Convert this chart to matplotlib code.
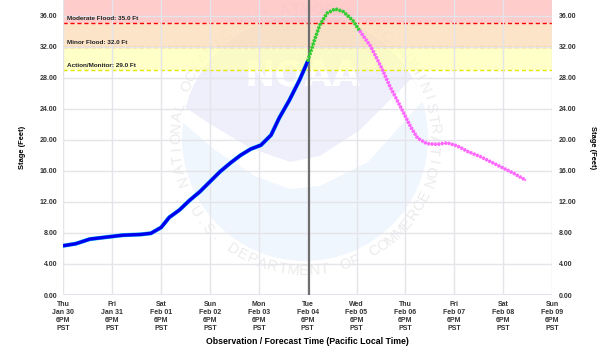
import numpy as np
import matplotlib
matplotlib.use("Agg")
import matplotlib.pyplot as plt
from matplotlib.patches import Circle, Polygon

plt.rcParams['font.family'] = ['Liberation Sans', 'DejaVu Sans']

# hours since Thu Jan 30 6PM PST, stage in feet
obs_hours = [0, 6, 13, 21, 29, 38, 43, 48, 52, 57, 62, 67, 72, 77, 82,
             87, 92, 97, 102, 106, 111, 116, 120]
obs_stage = [6.35, 6.6, 7.2, 7.45, 7.7, 7.8, 7.95, 8.7, 10.0, 10.95, 12.2,
             13.3, 14.6, 15.9, 17.0, 18.0, 18.8, 19.3, 20.6, 22.8, 25.1,
             27.7, 30.1]
fcst_hi_hours = [120, 123, 126, 129.5, 133.5, 137.5, 142, 145.5]
fcst_hi_stage = [30.1, 32.6, 34.8, 36.3, 36.85, 36.5, 35.4, 34.05]
fcst_lo_hours = [145.5, 151, 156, 160.5, 165.5, 170.5, 174, 178.5, 183.5,
                 188.5, 193.5, 198.5, 205, 213, 221, 227]
fcst_lo_stage = [34.05, 32.0, 29.4, 26.8, 24.3, 21.7, 20.2, 19.5, 19.4,
                 19.6, 19.2, 18.5, 17.8, 16.75, 15.7, 14.8]
now_hour = 120.5

tick_days = ["Thu", "Fri", "Sat", "Sun", "Mon", "Tue", "Wed", "Thu", "Fri",
             "Sat", "Sun"]
tick_dates = ["Jan 30", "Jan 31", "Feb 01", "Feb 02", "Feb 03", "Feb 04",
              "Feb 05", "Feb 06", "Feb 07", "Feb 08", "Feb 09"]

flood_levels = [("Action/Monitor", 29.0, 32.0, "#ffffb6", "#e6e600"),
                ("Minor Flood", 32.0, 35.0, "#fcdcb6", "#ff9900"),
                ("Moderate Flood", 35.0, 38.0, "#ffbcbc", "#ff0000")]

W, H = 616, 352
fig = plt.figure(figsize=(W / 100, H / 100), dpi=100)

# ---- faint NOAA watermark behind the chart ----
bg = fig.add_axes([0, 0, 1, 1], zorder=0)
bg.set_xlim(0, W)
bg.set_ylim(H, 0)
bg.axis('off')
cx, cy, r = 305, 138, 123
disk = Circle((cx, cy), r, color="#f0f6fd", lw=0)
bg.add_patch(disk)
lav = Polygon([(180, 100), (190, -20), (430, -20), (430, 85), (400, 95),
               (360, 130), (320, 156), (290, 162), (250, 148), (210, 124),
               (180, 104)], closed=True, color="#efeffb", lw=0)
bg.add_patch(lav)
lav.set_clip_path(disk)
wing = Polygon([(180, 104), (210, 124), (250, 148), (290, 162), (320, 156),
                (360, 130), (410, 80), (430, 75), (428, 95), (368, 162),
                (320, 186), (290, 189), (255, 176), (215, 150), (180, 120)],
               closed=True, color="white", lw=0)
bg.add_patch(wing)
wing.set_clip_path(disk)
bg.text(303, 76, "NOAA", color="white", fontsize=26, fontweight='bold',
        ha='center', va='center', family='DejaVu Sans')


def arc_text(ax, text, a0, a1, rad, outward):
    for ch, a in zip(text, np.linspace(a0, a1, len(text))):
        t = np.deg2rad(a)
        x = cx + rad * np.cos(t)
        y = cy - rad * np.sin(t)
        rot = a - 90 if outward else a + 90
        ax.text(x, y, ch, rotation=rot, ha='center', va='center',
                rotation_mode='anchor', fontsize=10.5, color="#ebebeb")


arc_text(bg, "NATIONAL OCEANIC AND ATMOSPHERIC ADMINISTRATION",
         199, -20, 129, True)
arc_text(bg, "U.S. DEPARTMENT OF COMMERCE", 214, 334, 133, False)

# ---- main chart ----
ax = fig.add_axes([63.4 / W, 1 - 295 / H, (552 - 63.4) / W, 295 / H],
                  zorder=1)
ax.patch.set_visible(False)

for name, lo, hi, fill, line in flood_levels:
    ax.axhspan(lo, hi, color=fill, alpha=0.75, lw=0, zorder=0)
    ax.axhline(lo, color=line, lw=1, ls=(0, (3, 2)), zorder=2)
    ax.text(2, lo + 0.25, f"{name}: {lo:.1f} Ft", fontsize=4.6,
            fontweight='bold', color="#222222", va='bottom', ha='left',
            zorder=5)

ax.set_xlim(0, 240)
ax.set_ylim(0, 38)
yt = np.arange(0, 37, 4)
ax.set_yticks(yt)
ax.set_yticklabels([f"{v:.2f}" for v in yt])
ax.set_xticks(np.arange(0, 241, 24))
ax.set_xticklabels([f"{d}\n{t}\n6PM\nPST" for d, t in zip(tick_days, tick_dates)],
                   linespacing=1.15)
ax.grid(True, color="#e4e4ea", lw=1, zorder=1)
ax.set_axisbelow(False)
for sp in ax.spines.values():
    sp.set_visible(False)
ax.axhline(0, color="#dfe3ef", lw=2, zorder=1)
ax.tick_params(length=0, labelsize=5, colors="#333333", pad=4.5)
for lab in ax.get_xticklabels() + ax.get_yticklabels():
    lab.set_fontweight('bold')

ax.set_ylabel("Stage (Feet)", fontsize=5.4, fontweight='bold', labelpad=10)
ax.set_xlabel("Observation / Forecast Time (Pacific Local Time)",
              fontsize=6.3, fontweight='bold', labelpad=4)

ax2 = ax.twinx()
ax2.set_ylim(0, 38)
ax2.set_yticks(yt)
ax2.set_yticklabels([f"{v:.2f}" for v in yt])
ax2.tick_params(length=0, labelsize=5, colors="#333333", pad=5)
for lab in ax2.get_yticklabels():
    lab.set_fontweight('bold')
for sp in ax2.spines.values():
    sp.set_visible(False)
ax2.set_ylabel("Stage (Feet)", fontsize=5.4, fontweight='bold', rotation=-90,
               labelpad=14)

ax.axvline(now_hour, color="#6e6e6e", lw=1.6, zorder=4)

ax.plot(obs_hours, obs_stage, color="#22ccee", lw=3.0, zorder=5,
        solid_capstyle='round')
ax.plot(obs_hours, obs_stage, color="#0000ee", lw=2.4, zorder=6,
        solid_capstyle='round')
for hrs, stg, col in [(fcst_hi_hours, fcst_hi_stage, "#33cc33"),
                      (fcst_lo_hours, fcst_lo_stage, "#ff66ff")]:
    ax.plot(hrs, stg, color=col, lw=1, zorder=6)
    ax.plot(hrs, stg, color=col, lw=2.6, ls=(0, (0.6, 0.35)), zorder=6)

fig.savefig("out.png", dpi=100)
